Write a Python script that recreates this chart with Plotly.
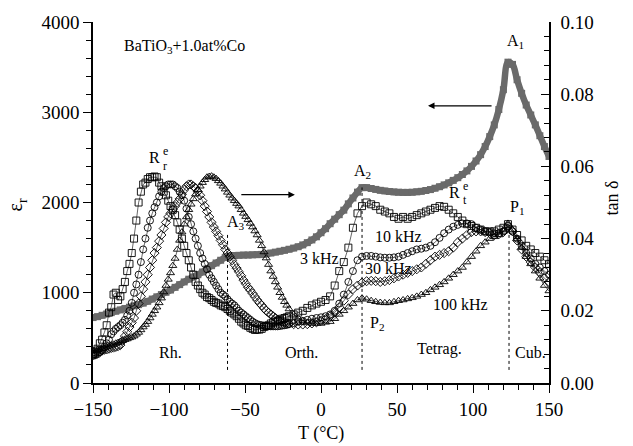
import plotly.graph_objects as go

# ---------------- data ----------------
T = list(range(-150, 151, 3))  # temperature grid for eps_r, degC
# tan delta grid: 1.5 degC steps up to -21 degC, then 3 degC steps
T_tan = [-150 + 1.5 * k for k in range(87)] + list(range(-18, 151, 3))

eps_r = [725, 735, 750, 765, 780, 795, 810, 825, 840, 855,
         868, 885, 905, 930, 955, 980, 1005, 1030, 1060, 1090,
         1120, 1150, 1175, 1200, 1230, 1265, 1300, 1330, 1360, 1390,
         1405, 1412, 1415, 1417, 1418, 1420, 1422, 1425, 1430, 1440,
         1450, 1460, 1470, 1482, 1495, 1510, 1530, 1555, 1585, 1620,
         1665, 1710, 1765, 1815, 1865, 1915, 1985, 2050, 2115, 2165,
         2165, 2155, 2145, 2135, 2128, 2122, 2117, 2114, 2112, 2112,
         2114, 2118, 2124, 2133, 2143, 2158, 2175, 2195, 2218, 2245,
         2275, 2310, 2350, 2400, 2460, 2530, 2620, 2730, 2860, 3030,
         3250, 3555, 3530, 3360, 3210, 3080, 2970, 2860, 2740, 2620, 2510]

tan_3k = [0.008, 0.0085, 0.0095, 0.011, 0.012, 0.014, 0.016, 0.0195, 0.021, 0.0245,
          0.025, 0.023, 0.024, 0.026, 0.028, 0.031, 0.033, 0.036, 0.040, 0.045,
          0.050, 0.053, 0.055, 0.0555, 0.0565, 0.057, 0.057, 0.0572, 0.057, 0.0555,
          0.0545, 0.053, 0.052, 0.0505, 0.049, 0.048, 0.0465, 0.0445, 0.0425, 0.040,
          0.038, 0.036, 0.034, 0.032, 0.030, 0.028, 0.027, 0.026, 0.025, 0.0245,
          0.0238, 0.0235, 0.023, 0.0225, 0.0222, 0.022, 0.0215, 0.0213, 0.021, 0.0205,
          0.020, 0.0195, 0.019, 0.0185, 0.0178, 0.017, 0.0165, 0.016, 0.0158, 0.0153,
          0.015, 0.0147, 0.0148, 0.0148, 0.015, 0.0155, 0.0158, 0.016, 0.0165, 0.0168,
          0.017, 0.0172, 0.0175, 0.0178, 0.018, 0.0182, 0.0185,
          0.019, 0.0195, 0.020, 0.0208, 0.0215, 0.022, 0.0225, 0.023, 0.024, 0.027,
          0.031, 0.0335, 0.0375, 0.043, 0.047, 0.049, 0.050, 0.0495, 0.049, 0.048,
          0.0475, 0.047, 0.046, 0.0455, 0.046, 0.0455, 0.046, 0.0465, 0.047, 0.0475,
          0.048, 0.0485, 0.049, 0.0488, 0.048, 0.047, 0.046, 0.045, 0.044, 0.0435,
          0.043, 0.0425, 0.042, 0.042, 0.042, 0.0425, 0.043, 0.044, 0.0425, 0.041,
          0.0395, 0.038, 0.037, 0.036, 0.035, 0.034, 0.033]

tan_10k = [0.0075, 0.0077, 0.008, 0.0085, 0.009, 0.010, 0.011, 0.012, 0.0135, 0.0143,
           0.015, 0.0155, 0.016, 0.0167, 0.0175, 0.0187, 0.020, 0.0222, 0.025, 0.0273,
           0.030, 0.0335, 0.037, 0.040, 0.043, 0.045, 0.047, 0.0487, 0.050, 0.0517,
           0.053, 0.054, 0.0545, 0.055, 0.055, 0.055, 0.0545, 0.054, 0.053, 0.052,
           0.0505, 0.0483, 0.046, 0.044, 0.042, 0.040, 0.038, 0.036, 0.0345, 0.033,
           0.0315, 0.030, 0.029, 0.028, 0.027, 0.026, 0.025, 0.0245, 0.024, 0.0232,
           0.0225, 0.022, 0.0215, 0.0208, 0.020, 0.0195, 0.019, 0.0185, 0.018, 0.0175,
           0.017, 0.0166, 0.0163, 0.0161, 0.016, 0.0159, 0.0158, 0.0157, 0.0157, 0.0157,
           0.0157, 0.0157, 0.0158, 0.0159, 0.016, 0.0161, 0.0163,
           0.0166, 0.017, 0.0172, 0.0175, 0.0178, 0.018, 0.0182, 0.0185, 0.019, 0.020,
           0.022, 0.0245, 0.028, 0.031, 0.034, 0.035, 0.0352, 0.0352, 0.035, 0.0348,
           0.0347, 0.0347, 0.0348, 0.035, 0.0355, 0.036, 0.0365, 0.037, 0.0372, 0.0375,
           0.038, 0.039, 0.0402, 0.0415, 0.0425, 0.0433, 0.0438, 0.0442, 0.0442, 0.044,
           0.043, 0.0425, 0.042, 0.0418, 0.0415, 0.0415, 0.042, 0.0435, 0.042, 0.040,
           0.038, 0.036, 0.0345, 0.033, 0.032, 0.031, 0.030]

tan_30k = [0.008, 0.0082, 0.0085, 0.0087, 0.009, 0.0092, 0.0093, 0.0095, 0.0097, 0.0098,
           0.010, 0.0102, 0.0105, 0.0117, 0.013, 0.0142, 0.0155, 0.0167, 0.018, 0.020,
           0.022, 0.024, 0.026, 0.028, 0.030, 0.032, 0.034, 0.036, 0.0375, 0.0393,
           0.041, 0.0428, 0.0445, 0.046, 0.047, 0.048, 0.049, 0.050, 0.051, 0.0523,
           0.0535, 0.0545, 0.055, 0.055, 0.0545, 0.054, 0.053, 0.052, 0.0505, 0.049,
           0.0475, 0.046, 0.0445, 0.0432, 0.042, 0.0408, 0.0395, 0.0383, 0.037, 0.036,
           0.035, 0.034, 0.0328, 0.0318, 0.0308, 0.0297, 0.0285, 0.0275, 0.0265, 0.0257,
           0.0248, 0.0239, 0.023, 0.0222, 0.0215, 0.0207, 0.020, 0.0195, 0.019, 0.0185,
           0.018, 0.0176, 0.0172, 0.017, 0.0168, 0.0166, 0.0165,
           0.0163, 0.0162, 0.0162, 0.0163, 0.0165, 0.0168, 0.0172, 0.0177, 0.0185, 0.0195,
           0.021, 0.0228, 0.0245, 0.026, 0.027, 0.0278, 0.0282, 0.0283, 0.0282, 0.028,
           0.0282, 0.0285, 0.029, 0.0295, 0.030, 0.0305, 0.031, 0.0315, 0.032, 0.033,
           0.034, 0.035, 0.0355, 0.036, 0.0365, 0.0375, 0.039, 0.040, 0.041, 0.0418,
           0.042, 0.042, 0.0418, 0.0415, 0.041, 0.0412, 0.0418, 0.0435, 0.042, 0.0395,
           0.037, 0.035, 0.0335, 0.032, 0.0305, 0.029, 0.028]

tan_100k = [0.009, 0.0091, 0.0092, 0.0093, 0.0095, 0.0097, 0.010, 0.0102, 0.0105, 0.0107,
            0.011, 0.0112, 0.0115, 0.0117, 0.012, 0.0122, 0.0125, 0.0127, 0.013, 0.0135,
            0.014, 0.0147, 0.0155, 0.0162, 0.017, 0.018, 0.019, 0.020, 0.021, 0.0222,
            0.0235, 0.0252, 0.027, 0.0287, 0.0305, 0.0325, 0.0345, 0.037, 0.0395, 0.0418,
            0.044, 0.046, 0.048, 0.0495, 0.051, 0.0523, 0.0535, 0.0545, 0.0555, 0.0563,
            0.057, 0.0572, 0.0573, 0.057, 0.0566, 0.056, 0.0553, 0.0545, 0.0537, 0.0528,
            0.052, 0.0512, 0.0505, 0.0497, 0.049, 0.048, 0.047, 0.0461, 0.0452, 0.0442,
            0.0432, 0.0421, 0.041, 0.0395, 0.038, 0.0363, 0.0346, 0.0328, 0.031, 0.0295,
            0.028, 0.0265, 0.025, 0.0237, 0.0225, 0.0215, 0.0205,
            0.019, 0.018, 0.0172, 0.0168, 0.0165, 0.0165, 0.0165, 0.0168, 0.017, 0.0178,
            0.019, 0.020, 0.021, 0.022, 0.023, 0.0235, 0.0232, 0.0228, 0.0225, 0.0223,
            0.0222, 0.0222, 0.0225, 0.0228, 0.023, 0.0233, 0.0236, 0.024, 0.0245, 0.025,
            0.0258, 0.0265, 0.0272, 0.028, 0.029, 0.030, 0.031, 0.032, 0.0335, 0.035,
            0.0365, 0.038, 0.039, 0.040, 0.0405, 0.041, 0.042, 0.0442, 0.0425, 0.040,
            0.0375, 0.035, 0.033, 0.031, 0.029, 0.027, 0.0255]

tan_series = [("3 kHz", tan_3k, "square-open"),
              ("10 kHz", tan_10k, "circle-open"),
              ("30 kHz", tan_30k, "diamond-open"),
              ("100 kHz", tan_100k, "triangle-up-open")]

x_ticks = [-150, -100, -50, 0, 50, 100, 150]
y_ticks = [0, 1000, 2000, 3000, 4000]
y2_ticks = [0.00, 0.02, 0.04, 0.06, 0.08, 0.10]

FONT = "Liberation Serif"
GRAY = "#6a6a6a"

fig = go.Figure()
fig.add_trace(go.Scatter(
    x=T, y=eps_r, mode="lines+markers", yaxis="y", showlegend=False,
    line=dict(color=GRAY, width=6.5, shape="spline"),
    marker=dict(symbol="square", size=7, color=GRAY)))

for name, vals, sym in tan_series:
    fig.add_trace(go.Scatter(
        x=T_tan, y=vals, mode="lines+markers", yaxis="y2", name=name, showlegend=False,
        line=dict(color="black", width=0.6),
        marker=dict(symbol=sym, size=7, color="black", line=dict(width=0.9))))

axis_common = dict(showgrid=False, zeroline=False, showline=True, linecolor="black",
                   linewidth=1.5, tickcolor="black", tickwidth=1.2, ticklen=8,
                   tickfont=dict(family=FONT, size=19, color="black"))

fig.update_layout(
    width=633, height=446,
    margin=dict(l=93, r=84, t=17, b=63),
    paper_bgcolor="white", plot_bgcolor="white",
    font=dict(family=FONT, color="black"),
    xaxis=dict(range=[-150, 150], tickvals=x_ticks, ticks="outside",
               minor=dict(dtick=10, tick0=-150, ticks="outside", ticklen=5,
                          tickcolor="black", tickwidth=1),
               **axis_common),
    xaxis2=dict(range=[-150, 150], overlaying="x", side="top", anchor="y",
                tickvals=x_ticks, ticks="inside", showticklabels=False,
                minor=dict(dtick=10, tick0=-150, ticks="inside", ticklen=5,
                           tickcolor="black", tickwidth=1),
                **axis_common),
    yaxis=dict(range=[0, 4000], tickvals=y_ticks, ticks="outside",
               minor=dict(dtick=200, tick0=0, ticks="outside", ticklen=5,
                          tickcolor="black", tickwidth=1),
               **axis_common),
    yaxis2=dict(range=[0, 0.1], overlaying="y", side="right", tickvals=y2_ticks,
                tickformat=".2f", ticks="inside", ticklabelstandoff=6,
                minor=dict(dtick=0.004, tick0=0, ticks="inside", ticklen=5,
                           tickcolor="black", tickwidth=1),
                **axis_common),
)

ann_font = dict(family=FONT, size=16, color="black")
labels = [
    ("BaTiO<sub>3</sub>+1.0at%Co", -131, 3730),
    ("A<sub>1</sub>", 120.9, 3785),
    ("A<sub>2</sub>", 20.7, 2342),
    ("A<sub>3</sub>", -63.4, 1774),
    ("P<sub>1</sub>", 122.8, 1949),
    ("P<sub>2</sub>", 30.7, 660),
    ("3 kHz", -15.4, 1380),
    ("10 kHz", 34, 1621),
    ("30 kHz", 27.4, 1271),
    ("100 kHz", 72.6, 867),
    ("Rh.", -108.1, 334),
    ("Orth.", -25.2, 342),
    ("Tetrag.", 61.6, 375),
    ("Cub.", 126, 342),
]
for txt, x, y in labels:
    fig.add_annotation(x=x, y=y, xref="x", yref="y", text=txt, showarrow=False,
                       xanchor="left", yanchor="middle", font=ann_font)

# R with stacked super/subscripts
for base_x, base_y, sub in [(-109.3, 2495, "r"), (88, 2113, "t")]:
    fig.add_annotation(x=base_x, y=base_y, text="R", showarrow=False,
                       xanchor="center", yanchor="middle", font=ann_font)
    fig.add_annotation(x=base_x + 4.0, y=base_y + 75, text="e", showarrow=False,
                       xanchor="left", yanchor="middle",
                       font=dict(family=FONT, size=12, color="black"))
    fig.add_annotation(x=base_x + 4.0, y=base_y - 85, text=sub, showarrow=False,
                       xanchor="left", yanchor="middle",
                       font=dict(family=FONT, size=12, color="black"))

# arrows
fig.add_annotation(x=-17.2, y=2087, ax=-53.4, ay=2087, axref="x", ayref="y",
                   xref="x", yref="y", text="", showarrow=True,
                   arrowhead=2, arrowsize=1, arrowwidth=1.3, arrowcolor="black")
fig.add_annotation(x=70.4, y=3071, ax=113.2, ay=3071, axref="x", ayref="y",
                   xref="x", yref="y", text="", showarrow=True,
                   arrowhead=2, arrowsize=1, arrowwidth=1.3, arrowcolor="black")

# dotted phase boundaries
for xv, y0, y1 in [(-61.5, 145, 1670), (27, 145, 2167), (123.7, 145, 1752)]:
    fig.add_shape(type="line", x0=xv, x1=xv, y0=y0, y1=y1, xref="x", yref="y",
                  line=dict(color="black", width=1, dash="dot"))

# axis titles
fig.add_annotation(x=-0.1667, y=0.4945, xref="paper", yref="paper",
                   xanchor="center", yanchor="middle",
                   text="ε<sub>r</sub>", textangle=-90, showarrow=False,
                   font=dict(family=FONT, size=20, color="black"))
fig.add_annotation(x=1.138, y=0.5137, xref="paper", yref="paper",
                   xanchor="center", yanchor="middle",
                   text="tan δ", textangle=-90, showarrow=False,
                   font=dict(family=FONT, size=18, color="black"))
fig.add_annotation(x=0.5, y=-0.139, xref="paper", yref="paper",
                   xanchor="center", yanchor="middle",
                   text="T (°C)", showarrow=False,
                   font=dict(family=FONT, size=18, color="black"))

fig.write_html("out.html")
